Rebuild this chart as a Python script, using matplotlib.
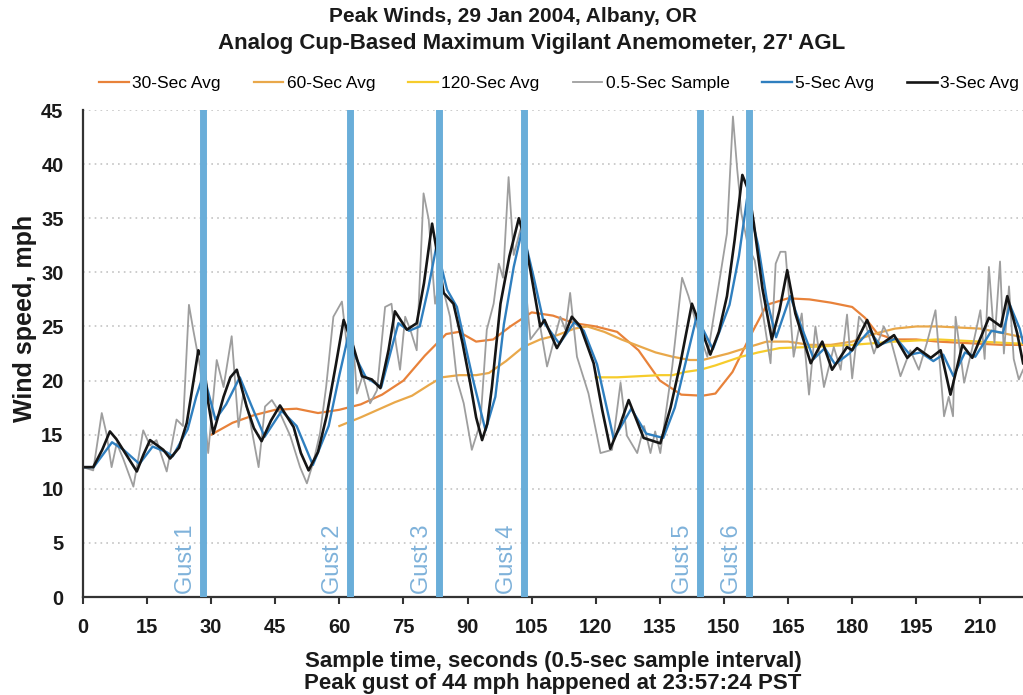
import matplotlib
matplotlib.use('Agg')
import matplotlib.pyplot as plt

plt.rcParams['font.family'] = ['Liberation Sans', 'DejaVu Sans']

# 0.5-sec samples (times in seconds)
raw_t = [0, 2.4, 4.4, 5.5, 6.7, 7.9, 9.4, 11.8, 14.1, 15.7, 17.2, 19.6, 21.9, 23.4, 24.8, 25.8,
         27.4, 29.3, 31.3, 32.9, 34.8, 36.4, 37.5, 39.0, 41.1, 42.6, 44.2, 46.1, 48.5, 50.8, 52.4,
         54.0, 55.5, 56.9, 58.6, 60.6, 61.8, 62.8, 64.1, 65.5, 67.2, 68.8, 70.7, 72.2, 73.2, 74.2,
         75.4, 76.6, 78.1, 79.7, 80.9, 82.4, 83.6, 85.9, 87.5, 89.1, 91.0, 93.0, 94.5, 96.1, 97.3,
         98.3, 99.6, 100.8, 102.4, 104.7, 107.0, 108.6, 111.7, 112.9, 114.0, 115.6, 118.3, 121.1,
         123.8, 125.8, 127.3, 129.7, 131.3, 132.8, 133.9, 135.1, 137.9, 140.2, 141.7, 143.7, 146.1,
         149.2, 150.7, 152.1, 153.1, 154.1, 155.7, 157.2, 159.0, 160.9, 162.1, 163.2, 164.4, 166.3,
         168.2, 169.9, 171.4, 173.4, 175.7, 177.3, 178.8, 180.0, 181.6, 183.3, 185.1, 187.4, 189.2,
         191.3, 193.6, 195.6, 197.5, 199.5, 201.5, 202.6, 203.6, 204.2, 206.2, 208.1, 210.0, 211.0,
         212.0, 213.3, 214.6, 215.5, 216.7, 217.8, 219.0, 220.0]
raw_v = [12.0, 11.7, 17.0, 15.1, 12.0, 14.2, 12.8, 10.2, 15.4, 14.0, 14.5, 11.6, 16.4, 15.8, 27.0, 24.7,
         21.3, 13.3, 21.9, 19.4, 24.1, 15.7, 18.8, 16.5, 12.0, 17.6, 18.2, 17.0, 14.9, 12.0, 10.5,
         12.6, 15.2, 19.4, 25.9, 27.3, 23.1, 26.0, 18.8, 20.5, 17.9, 19.1, 26.8, 27.1, 23.5, 21.0,
         25.9, 24.7, 22.8, 37.3, 34.9, 27.1, 29.5, 25.9, 20.1, 17.9, 13.6, 16.1, 24.7, 27.1, 30.8,
         29.5, 38.8, 31.6, 34.0, 23.8, 25.0, 21.3, 25.9, 24.7, 28.1, 22.2, 18.8, 13.3,
         13.6, 19.8, 14.9, 13.3, 15.8, 13.3, 15.3, 13.3, 21.3, 29.5, 27.8, 25.0, 22.2,
         29.9, 33.6, 44.4, 39.5, 35.4, 32.3, 31.1, 26.5, 21.6, 30.8, 31.9, 31.9, 22.2,
         26.2, 18.7, 25.0, 19.4, 23.1, 21.0, 26.1, 20.2, 25.9, 25.0, 22.5, 25.0, 23.5,
         20.4, 22.8, 21.0, 23.5, 26.5, 16.7, 18.5, 16.7, 25.9, 19.8, 23.0, 26.5, 22.0,
         30.5, 23.5, 31.0, 22.5, 28.7, 22.0, 20.1, 21.0]

# 3-sec average
avg3_t = [0, 2.4, 4.5, 6.3, 7.8, 9.4, 12.6, 14.2, 15.7, 18.8, 20.4, 22.5, 24.3, 25.8, 27.0, 28.2,
          29.3, 30.5, 32.9, 34.5, 36.0, 38.3, 40.0, 41.8, 44.0, 46.1, 49.3, 51.0, 52.8, 55.0, 57.0,
          59.2, 61.0, 63.3, 65.3, 67.6, 69.6, 71.5, 73.0, 75.8, 78.1, 79.8, 81.7, 83.0, 84.4, 86.7,
          88.8, 90.6, 92.0, 93.4, 94.6, 95.7, 97.7, 99.8, 102.0, 103.4, 104.7, 107.0, 108.0, 110.9,
          112.8, 114.4, 116.4, 119.5, 121.5, 123.4, 125.5, 127.7, 131.2, 135.1, 137.5, 139.8, 142.5,
          144.5, 146.8, 148.8, 150.7, 152.5, 154.3, 155.8, 157.0, 159.0, 161.2, 163.0, 164.8, 166.7,
          170.3, 173.0, 175.3, 178.8, 180.0, 183.5, 185.9, 189.8, 192.9, 195.2, 198.4, 200.7, 203.0,
          205.8, 208.1, 212.0, 214.8, 216.3, 218.6, 220.0]
avg3_v = [12.0, 12.0, 13.6, 15.3, 14.6, 13.6, 11.6, 13.2, 14.5, 13.6, 12.8, 13.8, 16.1, 19.8, 22.8, 21.9,
          18.0, 15.1, 18.5, 20.3, 21.0, 17.6, 15.6, 14.4, 16.3, 17.7, 15.7, 13.3, 11.7, 13.4, 16.7,
          21.5, 25.6, 23.1, 20.4, 20.1, 19.3, 22.8, 26.4, 24.7, 25.3, 29.0, 34.5, 31.5, 28.1, 27.1,
          23.5, 19.8, 16.6, 14.5, 16.0, 19.4, 27.1, 31.5, 35.0, 33.0, 30.2, 25.0, 25.6, 23.0,
          24.3, 25.9, 25.0, 21.6, 17.3, 13.7, 15.7, 18.2, 14.7, 14.2, 17.5, 21.6, 27.1,
          25.0, 22.4, 24.5, 27.8, 33.0, 39.0, 37.5, 34.5, 28.5, 23.8, 26.5, 30.2, 26.2,
          21.6, 23.6, 21.0, 23.1, 22.8, 25.6, 23.1, 24.2, 22.1, 23.0, 22.1, 22.8, 18.7,
          23.3, 22.1, 25.8, 25.0, 27.8, 24.4, 21.6]

# 5-sec average
avg5_t = [0, 2.5, 6.8, 9.5, 13.2, 16.3, 19.5, 21.0, 24.5, 26.5, 28.2, 31.0, 33.5, 36.7, 39.3, 42.5,
          46.5, 50.0, 53.8, 57.5, 60.0, 62.0, 64.0, 66.2, 69.8, 73.8, 76.3, 78.8, 80.8, 82.7, 85.2,
          87.5, 89.5, 91.2, 94.2, 96.5, 98.5, 100.8, 102.8, 105.5, 107.8, 111.5, 115.0, 117.2, 120.3,
          124.2, 128.3, 131.8, 135.8, 138.5, 140.5, 143.6, 147.4, 151.3, 153.5, 155.4, 158.0, 160.0,
          162.2, 165.5, 167.5, 171.0, 173.6, 176.0, 179.3, 184.0, 186.5, 190.3, 193.5, 196.0, 199.0,
          201.3, 203.7, 206.4, 208.8, 212.6, 215.3, 216.9, 219.2, 220.0]
avg5_v = [12.0, 12.0, 14.3, 13.6, 12.3, 13.9, 13.4, 13.0, 15.5, 18.5, 20.6, 16.4, 17.8, 20.3, 17.8, 14.8,
          17.2, 15.8, 12.2, 15.8, 20.5, 24.0, 22.0, 20.3, 19.4, 25.3, 24.6, 25.0, 28.5, 32.4, 28.4,
          26.8, 23.2, 20.2, 15.4, 18.5, 25.2, 30.5, 34.0, 29.5, 25.4, 23.4, 25.4, 24.6, 21.5,
          14.6, 17.4, 15.1, 14.7, 17.5, 20.8, 25.9, 22.9, 27.0, 31.5, 36.8, 32.5, 27.5,
          24.0, 27.8, 25.6, 22.0, 23.0, 21.5, 22.5, 24.6, 23.3, 23.9, 22.4, 22.6, 21.8,
          22.4, 20.4, 22.6, 22.2, 24.6, 24.4, 27.0, 24.8, 23.5]

# 30-sec average
avg30_t = [30, 35, 40, 45, 50, 55, 60, 65, 70, 75, 80, 85, 88, 92, 96, 100, 105, 110, 115, 120, 125,
           130, 135, 140, 145, 148, 152, 156, 160, 165, 170, 175, 180, 183, 186, 190, 195, 200, 205,
           210, 215, 220]
avg30_v = [15.0, 16.1, 16.8, 17.3, 17.4, 17.0, 17.3, 17.8, 18.7, 20.0, 22.3, 24.3, 24.5, 23.6, 23.8,
           25.0, 26.3, 26.0, 25.3, 25.0, 24.5, 22.8, 20.0, 18.7, 18.6, 18.8, 20.8, 24.0, 27.0, 27.6,
           27.5, 27.2, 26.8, 25.8, 24.3, 23.8, 23.8, 23.6, 23.5, 23.4, 23.3, 23.3]

# 60-sec average
avg60_t = [60, 65, 69, 73, 77, 81, 84, 88, 92, 95, 99, 103, 107, 111, 115, 118, 122, 126, 130, 134,
           138, 142, 145, 148, 151, 155, 160, 165, 170, 175, 180, 185, 190, 195, 200, 205, 210, 215, 220]
avg60_v = [15.8, 16.6, 17.3, 18.0, 18.6, 19.6, 20.3, 20.5, 20.5, 20.7, 21.8, 23.1, 23.8, 24.2, 24.8,
           25.0, 24.5, 23.8, 23.2, 22.6, 22.2, 21.9, 21.9, 22.2, 22.5, 23.0, 23.6, 23.6, 23.3, 23.3,
           23.6, 24.3, 24.8, 25.0, 25.0, 24.9, 24.8, 24.4, 24.0]

# 120-sec average
avg120_t = [120, 125, 130, 135, 138, 141, 144.5, 148, 151, 154, 158, 163, 170, 180, 190, 200, 210, 220]
avg120_v = [20.3, 20.3, 20.4, 20.5, 20.5, 20.8, 21.0, 21.4, 21.8, 22.2, 22.6, 23.0, 23.1, 23.3, 23.6,
            23.8, 23.6, 23.4]

gust_t = [28.0, 62.5, 83.2, 103.1, 144.3, 155.8]
gust_names = ['Gust 1', 'Gust 2', 'Gust 3', 'Gust 4', 'Gust 5', 'Gust 6']

fig = plt.figure(figsize=(10.23, 6.95), dpi=100)
ax = fig.add_axes([0.0811, 0.141, 0.919, 0.7007])

ax.plot(avg30_t, avg30_v, color='#e8823a', lw=1.6, label='30-Sec Avg')
ax.plot(avg60_t, avg60_v, color='#e9a84a', lw=1.6, label='60-Sec Avg')
ax.plot(avg120_t, avg120_v, color='#f6cc2c', lw=1.6, label='120-Sec Avg')
ax.plot(raw_t, raw_v, color='#9e9e9e', lw=1.3, label='0.5-Sec Sample')
ax.plot(avg5_t, avg5_v, color='#2f7fbf', lw=1.7, label='5-Sec Avg')
ax.plot(avg3_t, avg3_v, color='#151515', lw=1.9, label='3-Sec Avg')

for t, name in zip(gust_t, gust_names):
    ax.axvline(t, color='#6aaed9', lw=5, zorder=5)
    ax.text(t - 1.3, 0.3, name, rotation=90, ha='right', va='bottom',
            color='#7fb2da', fontsize=17, zorder=6)

ax.set_xlim(0, 220)
ax.set_ylim(0, 45)
ax.set_xticks(range(0, 211, 15))
ax.set_yticks(range(0, 46, 5))
for y in range(5, 46, 5):
    ax.axhline(y, color='#c4c4c4', lw=1.2, ls=(0, (1, 2.5)), zorder=0)

for s in ['top', 'right']:
    ax.spines[s].set_visible(False)
for s in ['left', 'bottom']:
    ax.spines[s].set_color('#333333')
    ax.spines[s].set_linewidth(1.6)
ax.tick_params(axis='x', direction='out', length=5, width=1.5, color='#333333', pad=10)
ax.tick_params(axis='y', length=0, pad=14)
for lbl in ax.get_xticklabels() + ax.get_yticklabels():
    lbl.set_fontweight('bold')
    lbl.set_fontsize(14.5)
    lbl.set_color('#1a1a1a')

fig.text(25 / 1023, 1 - 318 / 695, 'Wind speed, mph', rotation=90, ha='center', va='center',
         fontsize=18, fontweight='bold', color='#1a1a1a')
fig.text(553 / 1023, 1 - 662 / 695, 'Sample time, seconds (0.5-sec sample interval)',
         ha='center', va='center', fontsize=16, fontweight='bold', color='#1a1a1a')
fig.text(553 / 1023, 1 - 684 / 695, 'Peak gust of 44 mph happened at 23:57:24 PST',
         ha='center', va='center', fontsize=16, fontweight='bold', color='#1a1a1a')
fig.text(513 / 1023, 1 - 17 / 695, 'Peak Winds, 29 Jan 2004, Albany, OR',
         ha='center', va='center', fontsize=15, fontweight='bold', color='#1a1a1a')
fig.text(532 / 1023, 1 - 44 / 695, "Analog Cup-Based Maximum Vigilant Anemometer, 27' AGL",
         ha='center', va='center', fontsize=16, fontweight='bold', color='#1a1a1a')

handles, labels = ax.get_legend_handles_labels()
fig.legend(handles, labels, ncol=6, loc='center right', bbox_to_anchor=(1021 / 1023, 1 - 83 / 695),
           frameon=False, fontsize=12.5, handlelength=1.7, handletextpad=0.2, columnspacing=1.9,
           borderaxespad=0, borderpad=0.1)

fig.savefig('out.png', dpi=100)
